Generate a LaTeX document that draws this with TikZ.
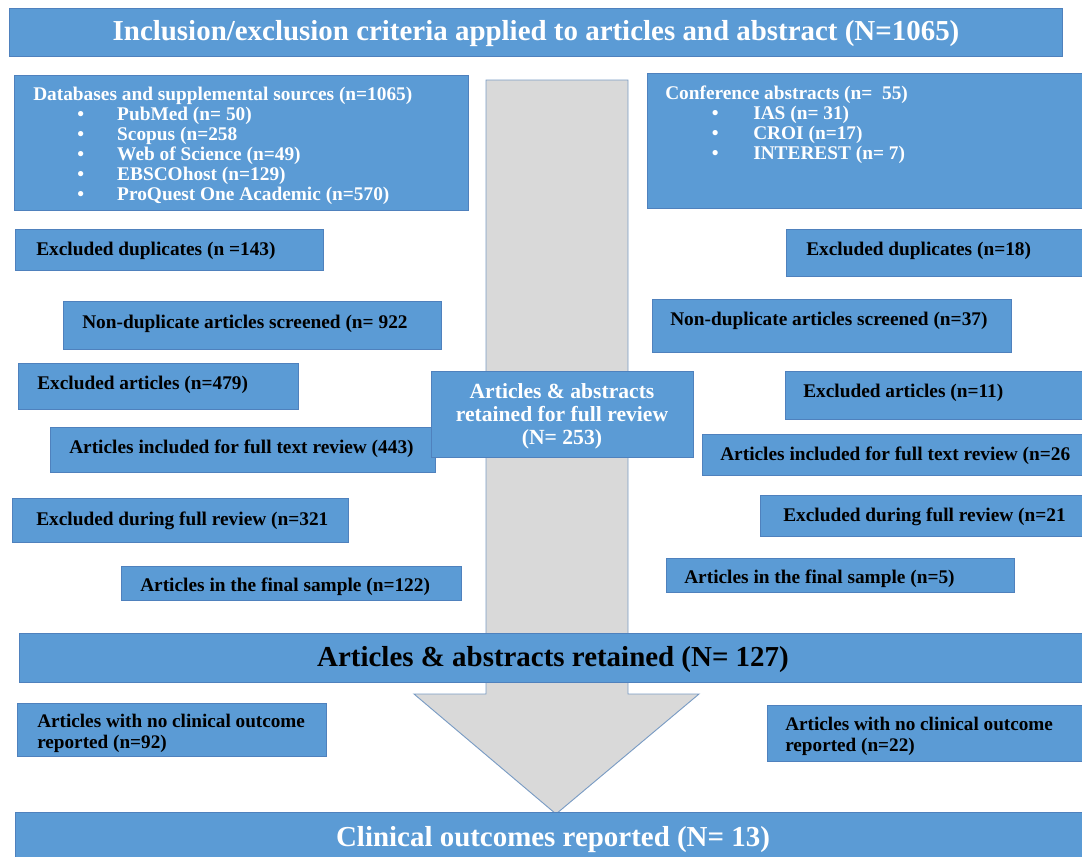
\documentclass[tikz,border=0pt]{standalone}
\usepackage{fontspec}
\setmainfont{Liberation Serif}
\definecolor{boxblue}{HTML}{5B9BD5}
\definecolor{boxline}{HTML}{4F81BD}
\definecolor{arrgrey}{HTML}{D9D9D9}
\definecolor{arrline}{HTML}{7A9CC4}
\tikzset{
  box/.style={rectangle,draw=boxline,fill=boxblue,line width=0.7pt,inner sep=0pt},
  wtxt/.style={text=white,font=\bfseries\fontsize{14.5pt}{15pt}\selectfont,inner sep=0pt},
  btxt/.style={text=black,font=\bfseries\fontsize{14.5pt}{15pt}\selectfont,inner sep=0pt},
  bigw/.style={text=white,font=\bfseries\fontsize{21.7pt}{24pt}\selectfont,inner sep=0pt},
  bigb/.style={text=black,font=\bfseries\fontsize{21.7pt}{24pt}\selectfont,inner sep=0pt},
}
\newcommand{\bx}[5]{\node[box,minimum width={(#4-(#2))*0.75pt},minimum height={(#5-(#3))*0.75pt}] (#1) at ({(#2+#4)/2},{(#3+#5)/2}) {};}
\newcommand{\itmA}[1]{\makebox[63pt][l]{\hspace{33pt}•}#1}
\newcommand{\itmB}[1]{\makebox[66pt][l]{\hspace{35pt}•}#1}
\begin{document}
\begin{tikzpicture}[x=0.75pt,y=-0.75pt]
\useasboundingbox (0,0) rectangle (1082,857);
\clip (0,0) rectangle (1082,857);
% big grey arrow
\draw[fill=arrgrey,draw=arrline,line width=0.7pt] (486,80) -- (628,80) -- (628,694) -- (699,694) -- (556,814) -- (414,694) -- (486,694) -- cycle;
% top
\bx{top}{9}{8}{1062}{56}
\node[bigw] (topt) at (536,34) {Inclusion/exclusion criteria applied to articles and abstract (N=1065)};
% sources
\bx{db}{14}{75}{468}{210}
\node[wtxt,anchor=north west,align=left] (dbt) at (33,87) {Databases and supplemental sources (n=1065)\\
\itmA{PubMed (n= 50)}\\
\itmA{Scopus (n=258}\\
\itmA{Web of Science (n=49)}\\
\itmA{EBSCOhost (n=129)}\\
\itmA{ProQuest One Academic (n=570)}};
\bx{conf}{647}{73}{1090}{208}
\node[wtxt,anchor=north west,align=left] (conft) at (665,86) {Conference abstracts (n=\ \ 55)\\
\itmB{IAS (n= 31)}\\
\itmB{CROI (n=17)}\\
\itmB{INTEREST (n= 7)}};
% left column
\bx{dupL}{15}{229}{323}{270}
\node[btxt,anchor=west] (dupLt) at (36,251) {Excluded duplicates (n =143)};
\bx{ndL}{63}{301}{441}{349}
\node[btxt,anchor=west] (ndLt) at (82,324) {Non-duplicate articles screened (n= 922};
\bx{exL}{18}{363}{298}{409}
\node[btxt,anchor=west] (exLt) at (37,385) {Excluded articles (n=479)};
\bx{incL}{50}{427}{435}{472}
\node[btxt,anchor=west] (incLt) at (69,449) {Articles included for full text review (443)};
\bx{efL}{12}{498}{348}{542}
\node[btxt,anchor=west] (efLt) at (36,521) {Excluded during full review (n=321};
\bx{fsL}{121}{566}{461}{600}
\node[btxt,anchor=west] (fsLt) at (140,587) {Articles in the final sample (n=122)};
% right column
\bx{dupR}{786}{229}{1090}{276}
\node[btxt,anchor=west] (dupRt) at (806,251) {Excluded duplicates (n=18)};
\bx{ndR}{652}{299}{1011}{352}
\node[btxt,anchor=west] (ndRt) at (670,321) {Non-duplicate articles screened (n=37)};
\bx{exR}{785}{371}{1090}{419}
\node[btxt,anchor=west] (exRt) at (803,393) {Excluded articles (n=11)};
\bx{incR}{702}{434}{1090}{475}
\node[btxt,anchor=west] (incRt) at (720,456) {Articles included for full text review (n=26};
\bx{efR}{760}{495}{1090}{536}
\node[btxt,anchor=west] (efRt) at (783,517) {Excluded during full review (n=21};
\bx{fsR}{666}{558}{1014}{592}
\node[btxt,anchor=west] (fsRt) at (684,579) {Articles in the final sample (n=5)};
% centre
\bx{ret}{431}{371}{693}{457}
\node[wtxt,align=center,font=\bfseries\fontsize{16.2pt}{17.25pt}\selectfont] (rett) at (562,416) {Articles \& abstracts\\retained for full review\\(N= 253)};
\bx{kept}{19}{633}{1090}{682}
\node[bigb] (keptt) at (553,660) {Articles \& abstracts retained (N= 127)};
\bx{ncL}{17}{703}{326}{756}
\node[btxt,anchor=west,align=left,font=\bfseries\fontsize{14.4pt}{15.75pt}\selectfont] (ncLt) at (37,733) {Articles with no clinical outcome\\reported (n=92)};
\bx{ncR}{767}{705}{1090}{761}
\node[btxt,anchor=west,align=left,font=\bfseries\fontsize{14.4pt}{15.75pt}\selectfont] (ncRt) at (785,736) {Articles with no clinical outcome\\reported (n=22)};
\bx{clin}{15}{812}{1090}{870}
\node[bigw] (clint) at (553,840) {Clinical outcomes reported (N= 13)};
\end{tikzpicture}
\end{document}
